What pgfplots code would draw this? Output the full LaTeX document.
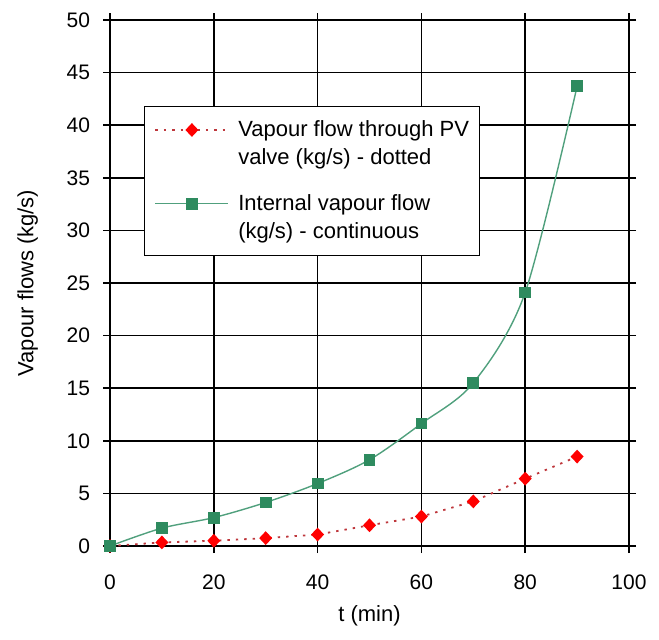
\documentclass[border=0pt]{standalone}
\usepackage{pgfplots}
\pgfplotsset{compat=1.18}
\usepackage{fontspec}
\setmainfont{Liberation Sans}
\definecolor{sgreen}{RGB}{46,139,95}
\definecolor{lgreen}{RGB}{80,160,125}
\definecolor{dred}{RGB}{190,55,60}
\begin{document}
\begin{tikzpicture}
\path (0pt,0pt) rectangle (329.5pt,319.5pt);
\begin{axis}[
  at={(55pt,46.5pt)}, anchor=south west,
  width=259.5pt, height=263pt, scale only axis,
  xmin=0, xmax=100, ymin=0, ymax=50,
  xtick={0,20,...,100}, ytick={0,5,...,50},
  grid=major, grid style={black, line width=0.8pt},
  axis line style={black, line width=0.8pt},
  tick style={black, line width=0.8pt},
  tick align=outside, major tick length=3.5pt,
  /pgf/number format/assume math mode=true,
  ticklabel style={font=\fontsize{10.5}{12}\selectfont},
  xticklabel style={yshift=-7.5pt},
  yticklabel style={xshift=-3pt},
  xlabel={t (min)}, ylabel={Vapour flows (kg/s)},
  label style={font=\fontsize{11}{12}\selectfont},
  xlabel style={yshift=-1pt},
  ylabel style={yshift=7.5pt},
  clip=false,
  legend cell align=left,
  legend style={at={(0.0655,0.8365)}, anchor=north west,
    draw=black, line width=0.5pt, fill=white,
    font=\fontsize{11}{14}\selectfont,
    nodes={inner sep=0pt, yshift=-7pt, align=left},
    inner xsep=5pt, inner ysep=7pt,
    column sep=4.5pt, row sep=13.4pt},
  legend image code/.code={
    \draw[mark repeat=2, mark phase=2, #1] plot coordinates {(0pt,0pt) (18.25pt,0pt) (36.5pt,0pt)};
  },
]
\addplot[dred, line width=0.9pt, dash pattern=on 1.2pt off 3pt,
  mark=diamond*, mark size=2.8pt, mark options={solid, xscale=1.25, fill=red, draw=red}]
  coordinates {(0,0) (10,0.34) (20,0.5) (30,0.75) (40,1.09) (50,1.97) (60,2.8) (70,4.24) (80,6.4) (90,8.5)};
\addlegendentry{Vapour flow through PV\\valve (kg/s) - dotted}
\addplot[lgreen, line width=0.7pt, smooth,
  mark=square*, mark size=2.6pt, mark options={fill=sgreen, draw=sgreen}]
  coordinates {(0,0) (10,1.7) (20,2.7) (30,4.14) (40,5.94) (50,8.2) (60,11.64) (70,15.5) (80,24.1) (90,43.7)};
\addlegendentry{Internal vapour flow\\(kg/s) - continuous}
\end{axis}
\end{tikzpicture}
\end{document}
